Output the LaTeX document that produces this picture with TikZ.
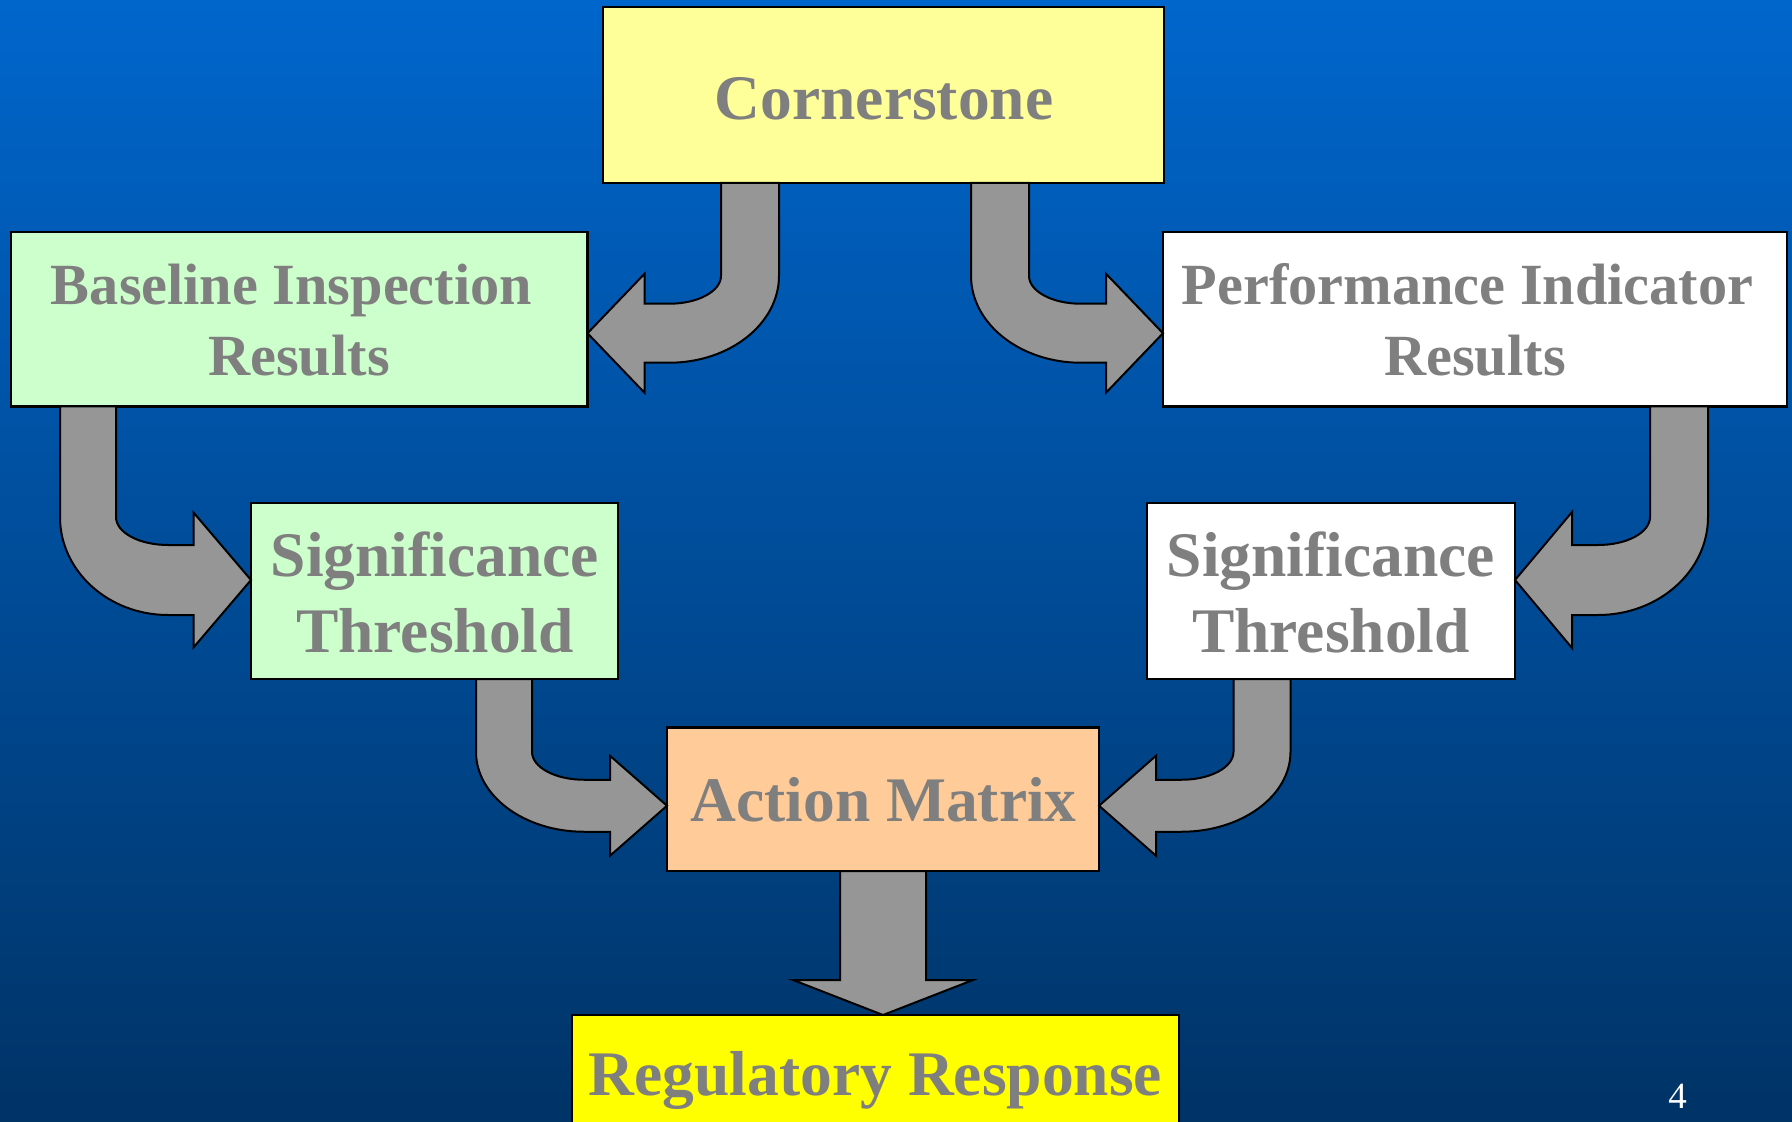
\documentclass[tikz,border=0pt]{standalone}
\usepackage{fontspec}
\setmainfont{Liberation Serif}
\usetikzlibrary{calc}
\definecolor{bgtop}{HTML}{0066CC}
\definecolor{bgbot}{HTML}{003366}
\definecolor{txtgray}{HTML}{7F7F7F}
\definecolor{arrowgray}{HTML}{969696}
\definecolor{csfill}{HTML}{FFFF99}
\definecolor{greenfill}{HTML}{CCFFCC}
\definecolor{orangefill}{HTML}{FFCC99}
\definecolor{rrfill}{HTML}{FFFF00}
\tikzset{
  box/.style={draw=black, line width=1.1pt, rectangle, inner sep=0pt, outer sep=0pt},
  corners/.style n args={4}{minimum width={(#3-#1)*0.5pt}, minimum height={(#4-#2)*0.5pt}, at={({(#1+#3)/2},{(#2+#4)/2})}},
  bigtxt/.style={anchor=base, inner sep=0pt, text=txtgray, font=\bfseries\fontsize{31.75pt}{38pt}\selectfont},
  midtxt/.style={anchor=base, inner sep=0pt, text=txtgray, font=\bfseries\fontsize{29.15pt}{35pt}\selectfont},
  blockarrow/.style={draw=black, fill=arrowgray, line width=1pt, line join=miter},
}
% #1 shaft-top point, #2 tip point, #3 dir (1 right, -1 left), #4 shaft half width,
% #5 band half height, #6 head half height, #7 head length
\newcommand\bentarrow[7]{%
  \coordinate (s) at #1;
  \coordinate (t) at #2;
  \coordinate (c) at (s|-t);
  \draw[blockarrow]
    ($(s)+({(#3)*(#4)},0)$)
    -- ($(c)+({(#3)*(#4)},{-(#5)-28})$)
    .. controls ($(c)+({(#3)*(#4)},{-(#5)-12.5})$) and ($(c)+({(#3)*((#4)+23)},{-(#5)})$)
    .. ($(c)+({(#3)*((#4)+52)},{-(#5)})$)
    -- ($(t)+({-(#3)*(#7)},{-(#5)})$)
    -- ($(t)+({-(#3)*(#7)},{-(#6)})$)
    -- (t)
    -- ($(t)+({-(#3)*(#7)},{#6})$)
    -- ($(t)+({-(#3)*(#7)},{#5})$)
    -- ($(c)+({(#3)*((#4)+52)},{#5})$)
    .. controls ($(c)+({(#3)*((#4)+52)-(#3)*0.552*(52+2*(#4))},{#5})$)
       and ($(c)+({-(#3)*(#4)},{-(#5)-28+0.552*(2*(#5)+28)})$)
    .. ($(c)+({-(#3)*(#4)},{-(#5)-28})$)
    -- ($(s)+({-(#3)*(#4)},0)$) -- cycle;
}
\begin{document}
\begin{tikzpicture}[x=0.5pt,y=-0.5pt]
\useasboundingbox (0,0) rectangle (1792,1122);
\clip (0,0) rectangle (1792,1122);
\shade[top color=bgtop, bottom color=bgbot] (0,0) rectangle (1792,1122);

% boxes
\node[box, fill=csfill, corners={603}{7}{1164}{183}] (cs) {};
\node[box, fill=greenfill, corners={11}{232}{587.5}{406.5}] (bi) {};
\node[box, fill=white, corners={1163}{232}{1787}{406.5}] (pi) {};
\node[box, fill=greenfill, corners={251}{503}{618}{679}] (sl) {};
\node[box, fill=white, corners={1147}{503}{1515}{679}] (sr) {};
\node[box, fill=orangefill, corners={667}{727.5}{1099}{871}] (am) {};
\node[box, fill=rrfill, corners={572}{1015}{1179}{1160}] (rr) {};

% texts
\node[bigtxt] (cs-t) at (884,119.3) {Cornerstone};
\node[midtxt] (bi-t1) at (291.5,305) {Baseline Inspection};
\node[midtxt] (bi-t2) at (299,376) {Results};
\node[midtxt] (pi-t1) at (1467.5,305) {Performance Indicator};
\node[midtxt] (pi-t2) at (1475,376) {Results};
\node[bigtxt] (sl-t1) at (435,576.7) {Significance};
\node[bigtxt] (sl-t2) at (435,652) {Threshold};
\node[bigtxt] (sr-t1) at (1331,576.7) {Significance};
\node[bigtxt] (sr-t2) at (1331,652) {Threshold};
\node[bigtxt] (am-t) at (883.5,821.7) {Action Matrix};
\node[bigtxt] (rr-t) at (875.5,1095) {Regulatory Response};
\node[anchor=base, inner sep=0pt, text=white, font=\fontsize{18.5pt}{22pt}\selectfont] (pg) at (1677.5,1108) {4};

% bent block arrows
\bentarrow{($(cs.south)+(-133.5,0)$)}{($(bi.east)+(0,14)$)}{-1}{29}{29.5}{59.5}{57}
\bentarrow{($(cs.south)+(116.5,0)$)}{($(pi.west)+(0,14)$)}{1}{29}{29.5}{59.5}{57}
\bentarrow{($(bi.south west)+(77,0)$)}{($(sl.west)+(0,-11)$)}{1}{28}{35}{67.5}{57.5}
\bentarrow{($(pi.south east)+(-108,0)$)}{($(sr.east)+(0,-11)$)}{-1}{29}{35}{68}{57}
\bentarrow{($(sl.south)+(69.5,0)$)}{($(am.west)+(0,6.5)$)}{1}{28}{26}{50}{57}
\bentarrow{($(sr.south)+(-69,0)$)}{($(am.east)+(0,6.5)$)}{-1}{28.5}{26}{50}{57}

% straight block arrow
\coordinate (ds) at (am.south);
\coordinate (dt) at (am.south |- rr.north);
\draw[blockarrow] ($(ds)+(-43,0)$) -- ($(dt)+(-43,-35)$) -- ($(dt)+(-90,-35)$) -- (dt)
  -- ($(dt)+(90,-35)$) -- ($(dt)+(43,-35)$) -- ($(ds)+(43,0)$) -- cycle;
\end{tikzpicture}
\end{document}
